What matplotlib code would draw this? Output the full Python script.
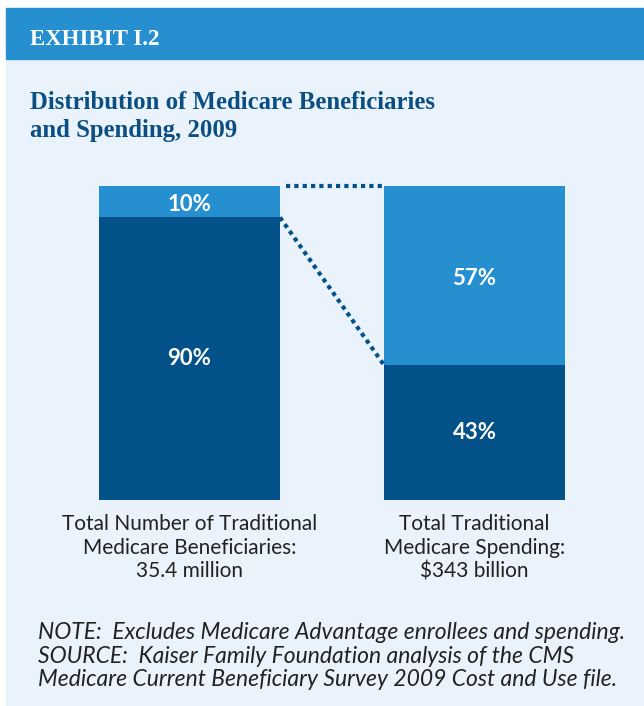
import matplotlib.pyplot as plt
from matplotlib.patches import Rectangle

# Datos
categorias = ['Beneficiarios', 'Gasto']
parte_oscura = [90, 43]
parte_clara = [10, 57]
etiquetas = ['Total Number of Traditional\nMedicare Beneficiaries:\n35.4 million',
             'Total Traditional\nMedicare Spending:\n$343 billion']

oscuro = '#035189'
claro = '#268fd0'
fondo = '#eaf2fb'

W, H = 644, 706
fig = plt.figure(figsize=(W / 100, H / 100), dpi=100, facecolor='white')

def fx(px):
    return px / W

def fy(py):
    return 1 - py / H

# Fondo y cabecera
fig.patches.append(Rectangle((fx(6), 0), 1 - fx(6), fy(59), transform=fig.transFigure,
                             color=fondo, zorder=-5))
fig.patches.append(Rectangle((fx(6), fy(59)), 1 - fx(6), fy(8) - fy(59),
                             transform=fig.transFigure, color=claro, zorder=-5))
fig.text(fx(30), fy(45), 'EXHIBIT I.2', color='white', fontsize=16.5, fontweight='bold',
         family='Liberation Serif', va='baseline')
fig.text(fx(30), fy(109), 'Distribution of Medicare Beneficiaries', color='#0b4f82',
         fontsize=17.8, fontweight='bold', family='Liberation Serif', va='baseline')
fig.text(fx(30), fy(137), 'and Spending, 2009', color='#0b4f82',
         fontsize=17.8, fontweight='bold', family='Liberation Serif', va='baseline')

# Barras
ax = fig.add_axes([fx(99), fy(500), fx(566) - fx(99), fy(186) - fy(500)])
ax.set_facecolor('none')
x = [0, 1]
ancho = 0.635
ax.bar(x, parte_oscura, width=ancho, color=oscuro)
ax.bar(x, parte_clara, width=ancho, bottom=parte_oscura, color=claro)
ax.set_xlim(-0.3175, 1.321)
ax.set_ylim(0, 100)
ax.axis('off')

# Lineas punteadas de conexion
ax.plot([ancho / 2 + 0.02, 1 - ancho / 2], [100, 100], color=oscuro, lw=3,
        linestyle=(0, (1, 1)), clip_on=False)
ax.plot([ancho / 2, 1 - ancho / 2], [parte_oscura[0], parte_oscura[1]], color=oscuro, lw=3,
        linestyle=(0, (1, 1)), clip_on=False)

# Porcentajes
for i in range(2):
    ax.text(x[i], parte_oscura[i] / 2, f'{parte_oscura[i]}%', color='white', fontsize=16,
            fontweight='bold', family='Lato', ha='center', va='center')
    ax.text(x[i], parte_oscura[i] + parte_clara[i] / 2 - 1, f'{parte_clara[i]}%',
            color='white', fontsize=16, fontweight='bold', family='Lato',
            ha='center', va='center')

# Etiquetas bajo las barras
for cx, txt in zip([189.5, 474.5], etiquetas):
    fig.text(fx(cx), fy(514), txt, color='#222222', fontsize=15, family='Lato',
             ha='center', va='top', linespacing=1.22)

nota = ('NOTE:  Excludes Medicare Advantage enrollees and spending.\n'
        'SOURCE:  Kaiser Family Foundation analysis of the CMS\n'
        'Medicare Current Beneficiary Survey 2009 Cost and Use file.')
fig.text(fx(38), fy(622), nota, color='#222222', fontsize=16.5, family='Lato',
         style='italic', ha='left', va='top', linespacing=1.15)

fig.savefig('out.png', dpi=100, facecolor='white')
